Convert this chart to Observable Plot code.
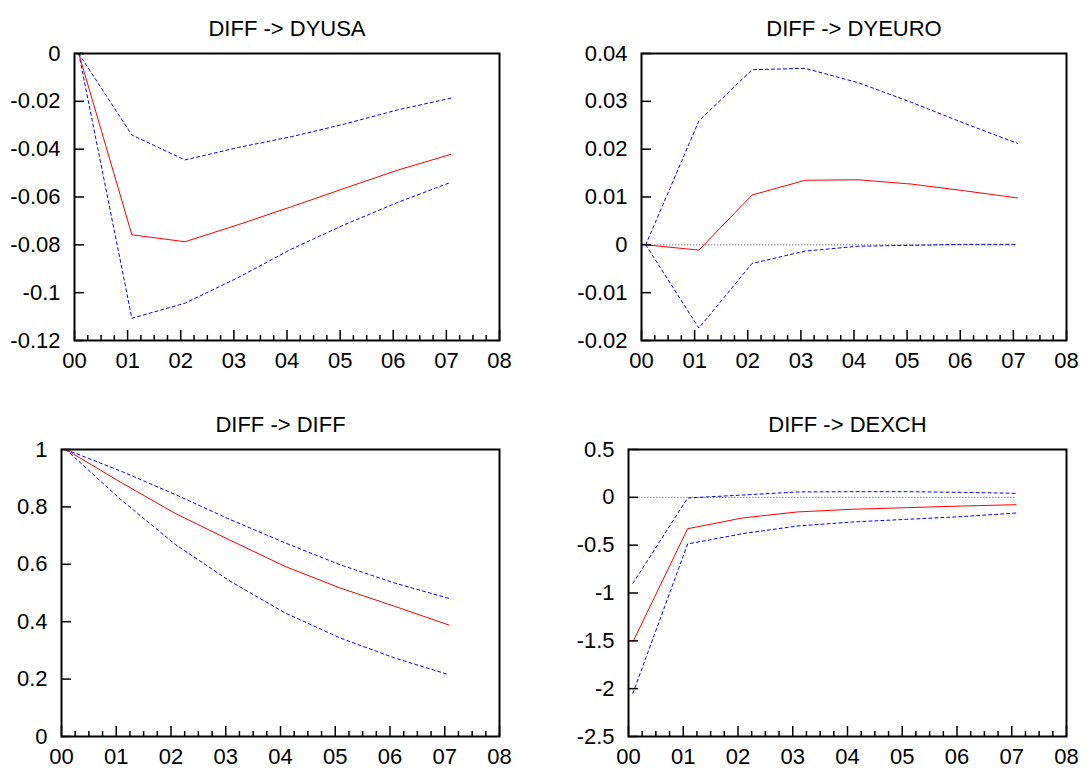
<!DOCTYPE html>
<html>
<head>
<meta charset="utf-8">
<script src="https://cdn.jsdelivr.net/npm/d3@7"></script>
<script src="https://cdn.jsdelivr.net/npm/@observablehq/plot@0.6"></script>
<style>
  body { margin: 0; background: #fff; }
  #wrap { position: relative; width: 1088px; height: 772px; background: #fff; }
  .panel { position: absolute; }
</style>
</head>
<body>
<div id="wrap"></div>
<script>
// ---------- data ----------
const horizon = [0, 1, 2, 3, 4, 5, 6, 7];
const xOffset = 0.08;               // responses are plotted just after each period tick
const xTickValues = [0, 1, 2, 3, 4, 5, 6, 7, 8];
const xTickLabels = ["00", "01", "02", "03", "04", "05", "06", "07", "08"];

const titles = ["DIFF -> DYUSA", "DIFF -> DYEURO", "DIFF -> DIFF", "DIFF -> DEXCH"];

// DIFF -> DYUSA
const usaIrf   = [0, -0.0758, -0.0787, -0.0716, -0.0641, -0.0564, -0.0488, -0.0422];
const usaUpper = [0, -0.0341, -0.0445, -0.0393, -0.0348, -0.0295, -0.0236, -0.0187];
const usaLower = [0, -0.1107, -0.1044, -0.0937, -0.0818, -0.0716, -0.0623, -0.0539];
const usaTicks = [0, -0.02, -0.04, -0.06, -0.08, -0.1, -0.12];
const usaTickLabels = ["0", "-0.02", "-0.04", "-0.06", "-0.08", "-0.1", "-0.12"];

// DIFF -> DYEURO
const euroIrf   = [0, -0.0011, 0.0104, 0.0135, 0.0136, 0.0127, 0.0113, 0.0098];
const euroUpper = [0, 0.0259, 0.0366, 0.0369, 0.0339, 0.0298, 0.0254, 0.0212];
const euroLower = [0, -0.0174, -0.0039, -0.0013, -0.0003, -0.0001, 0.0001, 0.0001];
const euroTicks = [0.04, 0.03, 0.02, 0.01, 0, -0.01, -0.02];
const euroTickLabels = ["0.04", "0.03", "0.02", "0.01", "0", "-0.01", "-0.02"];

// DIFF -> DIFF
const diffIrf   = [1, 0.886, 0.777, 0.684, 0.593, 0.518, 0.454, 0.388];
const diffUpper = [1, 0.925, 0.843, 0.756, 0.675, 0.599, 0.535, 0.481];
const diffLower = [1, 0.826, 0.669, 0.541, 0.431, 0.344, 0.274, 0.215];
const diffTicks = [1, 0.8, 0.6, 0.4, 0.2, 0];
const diffTickLabels = ["1", "0.8", "0.6", "0.4", "0.2", "0"];

// DIFF -> DEXCH
const exchIrf   = [-1.512, -0.328, -0.216, -0.153, -0.125, -0.108, -0.091, -0.077];
const exchUpper = [-0.899, -0.007, 0.024, 0.056, 0.059, 0.059, 0.052, 0.042];
const exchLower = [-2.049, -0.488, -0.380, -0.300, -0.258, -0.230, -0.202, -0.164];
const exchTicks = [0.5, 0, -0.5, -1, -1.5, -2, -2.5];
const exchTickLabels = ["0.5", "0", "-0.5", "-1", "-1.5", "-2", "-2.5"];

// ---------- drawing ----------
const FONT = "'Liberation Sans', Arial, Helvetica, sans-serif";
const minorTicks = d3.range(0, 8, 0.25).filter(v => v % 1 !== 0);

function panel(cfg) {
  const rows = horizon.map((h, i) => ({
    t: h + xOffset, irf: cfg.irf[i], upper: cfg.upper[i], lower: cfg.lower[i]
  }));
  const yLab = new Map(cfg.ticks.map((t, i) => [t, cfg.tickLabels[i]]));
  const marks = [];
  if (cfg.zeroLine) {
    marks.push(Plot.ruleY([0], {
      x1: horizon[0] + xOffset, x2: horizon[horizon.length - 1] + xOffset,
      stroke: "#444", strokeWidth: 1, strokeDasharray: "1,2"
    }));
  }
  marks.push(
    Plot.line(rows, {x: "t", y: "upper", stroke: "#0000ff", strokeWidth: 1, strokeDasharray: "3,3"}),
    Plot.line(rows, {x: "t", y: "lower", stroke: "#0000ff", strokeWidth: 1, strokeDasharray: "3,3"}),
    Plot.line(rows, {x: "t", y: "irf", stroke: "#ff0000", strokeWidth: 1}),
    // y axis labels and inward ticks
    Plot.axisY({ticks: cfg.ticks, tickSize: 0, tickPadding: 14, tickFormat: d => yLab.get(d), label: null}),
    Plot.axisY({ticks: cfg.ticks, tickSize: -10, tickFormat: () => "", strokeWidth: 1.5, label: null}),
    // x axis labels, major and minor inward ticks
    Plot.axisX({ticks: xTickValues, anchor: "bottom", tickSize: 0, tickPadding: 12,
                tickFormat: d => xTickLabels[xTickValues.indexOf(d)], label: null}),
    Plot.axisX({ticks: xTickValues, anchor: "bottom", tickSize: -10, tickFormat: () => "", strokeWidth: 1.5, label: null}),
    Plot.axisX({ticks: minorTicks, anchor: "bottom", tickSize: -5, tickFormat: () => "", strokeWidth: 1.5, label: null}),
    Plot.frame({stroke: "black", strokeWidth: 2}),
    Plot.text([cfg.title], {frameAnchor: "top", dy: -33, fontSize: 22, fill: "black"})
  );
  return Plot.plot({
    width: 544,
    height: 386,
    marginLeft: cfg.m[0], marginRight: cfg.m[1], marginTop: cfg.m[2], marginBottom: cfg.m[3],
    style: {fontFamily: FONT, fontSize: "22px", color: "black", background: "white", overflow: "visible"},
    x: {domain: [0, 8], label: null},
    y: {domain: cfg.domain, label: null},
    marks
  });
}

const configs = [
  {title: titles[0], irf: usaIrf, upper: usaUpper, lower: usaLower, ticks: usaTicks, tickLabels: usaTickLabels,
   domain: [-0.12, 0], zeroLine: false, m: [74, 45, 53, 46], pos: [0, 0]},
  {title: titles[1], irf: euroIrf, upper: euroUpper, lower: euroLower, ticks: euroTicks, tickLabels: euroTickLabels,
   domain: [-0.02, 0.04], zeroLine: true, m: [97, 22, 53, 46], pos: [544, 0]},
  {title: titles[2], irf: diffIrf, upper: diffUpper, lower: diffLower, ticks: diffTicks, tickLabels: diffTickLabels,
   domain: [0, 1], zeroLine: false, m: [61, 45, 63, 36], pos: [0, 386]},
  {title: titles[3], irf: exchIrf, upper: exchUpper, lower: exchLower, ticks: exchTicks, tickLabels: exchTickLabels,
   domain: [-2.5, 0.5], zeroLine: true, m: [84, 22, 63, 36], pos: [544, 386]}
];

const wrap = document.getElementById("wrap");
for (const cfg of configs) {
  const div = document.createElement("div");
  div.className = "panel";
  div.style.left = cfg.pos[0] + "px";
  div.style.top = cfg.pos[1] + "px";
  div.appendChild(panel(cfg));
  wrap.appendChild(div);
}
</script>
</body>
</html>
